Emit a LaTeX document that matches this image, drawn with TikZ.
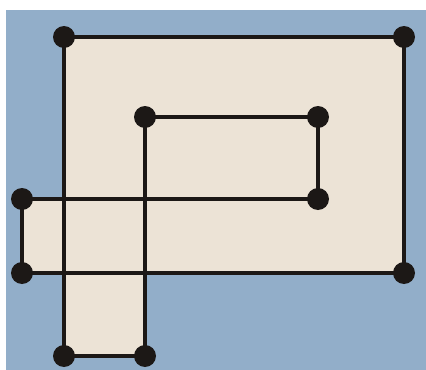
\documentclass[tikz,border=0pt]{standalone}
\usetikzlibrary{backgrounds}
\definecolor{skyblue}{RGB}{146,174,201}
\definecolor{paper}{RGB}{236,227,214}
\definecolor{ink}{RGB}{28,24,22}
\tikzset{
    dot/.style={circle, fill=ink, inner sep=0pt, minimum size=4.4mm},
    line/.style={draw=ink, line width=0.9mm, line join=round}
}

\begin{document}
\begin{tikzpicture}[x=0.2mm, y=-0.2mm]

\useasboundingbox (0,0) rectangle (426,370);

% outer frame
\node[dot] (A) at (64,37) {};
\node[dot] (B) at (404,37) {};
\node[dot] (C) at (404,273) {};
% left flap
\node[dot] (L2) at (22,273) {};
\node[dot] (L1) at (22,199) {};
% inner loop
\node[dot] (M3) at (318,199) {};
\node[dot] (M2) at (318,117) {};
\node[dot] (M1) at (145,117) {};
% bottom tab
\node[dot] (D2) at (145,356) {};
\node[dot] (D1) at (64,356) {};

\begin{scope}[on background layer]
\fill[white] (0,0) rectangle (426,370);
\fill[skyblue] (6,10) rectangle (426,370);
\fill[paper] (A.center) rectangle (C.center);
\fill[paper] (L1.center) rectangle (A.center |- L2.center);
\fill[paper] (A.center |- C.center) rectangle (D2.center);
\end{scope}

\draw[line] (A.center) -- (B.center) -- (C.center) -- (L2.center) -- (L1.center)
    -- (M3.center) -- (M2.center) -- (M1.center) -- (D2.center) -- (D1.center) -- cycle;

\end{tikzpicture}
\end{document}
